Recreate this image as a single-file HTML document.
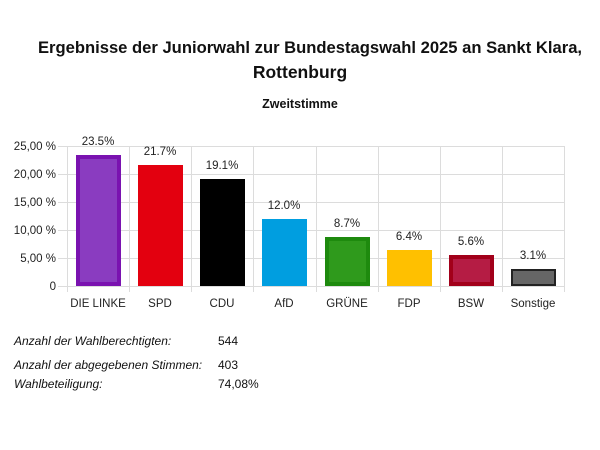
<!DOCTYPE html>
<html><head><meta charset="utf-8"><style>
body{margin:0;width:600px;height:450px;background:#fff;font-family:"Liberation Sans",sans-serif;overflow:hidden}
.t{position:absolute;left:0;width:600px;text-align:center;font-weight:bold;font-size:17.5px;color:#111}
.f{position:absolute;font-size:12px;color:#111}
</style></head><body>
<div class="t" style="top:38px;left:10px;font-size:16.6px">Ergebnisse der Juniorwahl zur Bundestagswahl 2025 an Sankt Klara,</div>
<div class="t" style="top:62px">Rottenburg</div>
<div class="t" style="top:97px;font-size:12.5px">Zweitstimme</div>
<svg width="600" height="450" style="position:absolute;left:0;top:0" font-family="Liberation Sans, sans-serif">
<g stroke="#dcdcdc" stroke-width="1">
<line x1="58" y1="146.5" x2="565" y2="146.5"/><line x1="58" y1="174.5" x2="565" y2="174.5"/>
<line x1="58" y1="202.5" x2="565" y2="202.5"/><line x1="58" y1="230.5" x2="565" y2="230.5"/>
<line x1="58" y1="258.5" x2="565" y2="258.5"/><line x1="58" y1="286.5" x2="565" y2="286.5"/>
<line x1="67.5" y1="146" x2="67.5" y2="292"/><line x1="129.5" y1="146" x2="129.5" y2="292"/>
<line x1="191.5" y1="146" x2="191.5" y2="292"/><line x1="253.5" y1="146" x2="253.5" y2="292"/>
<line x1="316.5" y1="146" x2="316.5" y2="292"/><line x1="378.5" y1="146" x2="378.5" y2="292"/>
<line x1="440.5" y1="146" x2="440.5" y2="292"/><line x1="502.5" y1="146" x2="502.5" y2="292"/>
<line x1="564.5" y1="146" x2="564.5" y2="292"/>
</g>
<g font-size="11.5" fill="#222" text-anchor="end">
<text x="56" y="150">25,00 %</text><text x="56" y="178">20,00 %</text><text x="56" y="206">15,00 %</text>
<text x="56" y="234">10,00 %</text><text x="56" y="262">5,00 %</text><text x="56" y="290">0</text>
</g>
<g>
<rect x="76" y="155" width="45" height="131" fill="#7a12b0"/><rect x="80" y="159" width="37" height="123" fill="#8a3cc0"/>
<rect x="138" y="165" width="45" height="121" fill="#e3000f"/>
<rect x="200" y="179" width="45" height="107" fill="#000"/>
<rect x="262" y="219" width="45" height="67" fill="#009ee0"/>
<rect x="325" y="237" width="45" height="49" fill="#1e8a0e"/><rect x="329" y="241" width="37" height="41" fill="#2f9a1c"/>
<rect x="387" y="250" width="45" height="36" fill="#ffc000"/>
<rect x="449" y="255" width="45" height="31" fill="#a2001a"/><rect x="453" y="259" width="37" height="23" fill="#b51c44"/>
<rect x="511" y="269" width="45" height="17" fill="#222"/><rect x="513" y="271" width="41" height="13" fill="#666"/>
</g>
<g font-size="11.5" fill="#222" text-anchor="middle">
<text x="98" y="145">23.5%</text><text x="160" y="155">21.7%</text><text x="222" y="169">19.1%</text>
<text x="284" y="209">12.0%</text><text x="347" y="227">8.7%</text><text x="409" y="240">6.4%</text>
<text x="471" y="245">5.6%</text><text x="533" y="259">3.1%</text>
<text x="98" y="307">DIE LINKE</text><text x="160" y="307">SPD</text><text x="222" y="307">CDU</text>
<text x="284" y="307">AfD</text><text x="347" y="307">GRÜNE</text><text x="409" y="307">FDP</text>
<text x="471" y="307">BSW</text><text x="533" y="307">Sonstige</text>
</g>
</svg>
<div class="f" style="left:14px;top:334px;font-style:italic">Anzahl der Wahlberechtigten:</div>
<div class="f" style="left:218px;top:334px">544</div>
<div class="f" style="left:14px;top:358px;font-style:italic">Anzahl der abgegebenen Stimmen:</div>
<div class="f" style="left:218px;top:358px">403</div>
<div class="f" style="left:14px;top:377px;font-style:italic">Wahlbeteiligung:</div>
<div class="f" style="left:218px;top:377px">74,08%</div>
</body></html>
